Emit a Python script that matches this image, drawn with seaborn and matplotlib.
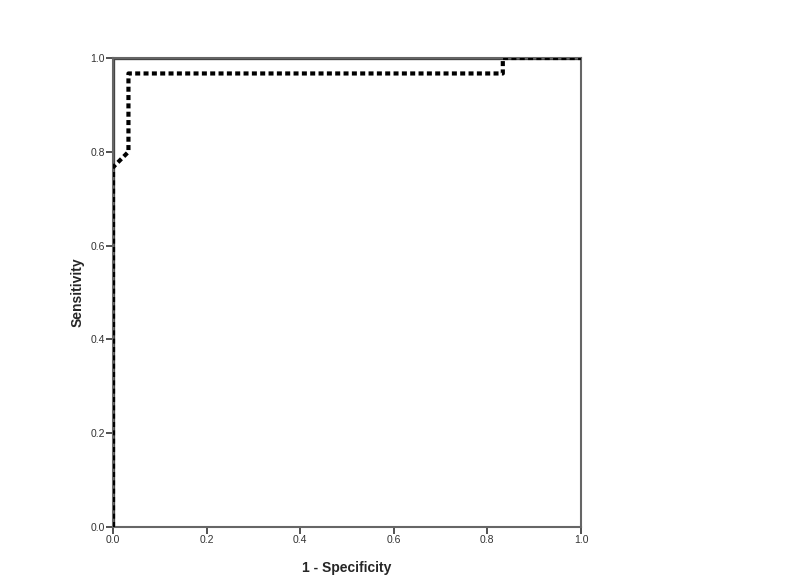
import matplotlib
matplotlib.use("Agg")
import matplotlib.pyplot as plt
import seaborn as sns
import pandas as pd

# Curve A (solid reference / perfect classifier)
fpr_a = [0.0, 0.0, 1.0]
tpr_a = [0.0, 1.0, 1.0]
# Curve B (dotted ROC)
fpr_b = [0.0, 0.0, 0.033, 0.033, 0.833, 0.833, 1.0]
tpr_b = [0.0, 0.767, 0.8, 0.967, 0.967, 1.0, 1.0]
ticks = [0.0, 0.2, 0.4, 0.6, 0.8, 1.0]
tick_labels = ["0.0", "0.2", "0.4", "0.6", "0.8", "1.0"]

sns.set_style("white")
plt.rcParams['font.family'] = ['Liberation Sans', 'DejaVu Sans']

fig = plt.figure(figsize=(7.87, 5.84), dpi=100)
ax = fig.add_axes([0.1436, 0.0976, 0.5946, 0.8031])

dfa = pd.DataFrame({"x": fpr_a, "y": tpr_a})
dfb = pd.DataFrame({"x": fpr_b, "y": tpr_b})

sns.lineplot(data=dfa, x="x", y="y", ax=ax, sort=False, estimator=None,
             color="#444444", linewidth=2.4, zorder=2)
sns.lineplot(data=dfb, x="x", y="y", ax=ax, sort=False, estimator=None,
             color="black", linewidth=3.0, zorder=3)
ax.lines[1].set_dashes([1.2, 0.8])

ax.set_xlim(0, 1)
ax.set_ylim(0, 1)
ax.set_xticks(ticks)
ax.set_xticklabels(tick_labels)
ax.set_yticks(ticks)
ax.set_yticklabels(tick_labels)
ax.tick_params(axis="both", direction="out", length=5, width=1.2,
               color="#333333", labelsize=7.5, labelcolor="#333333", pad=1,
               bottom=True, left=True)
for s in ax.spines.values():
    s.set_visible(True)
    s.set_color("#666666")
    s.set_linewidth(1.5)

ax.set_xlabel("1 - Specificity", fontsize=10, fontweight="bold", labelpad=11)
ax.set_ylabel("Sensitivity", fontsize=10, fontweight="bold", labelpad=4)

fig.savefig("out.png", dpi=100)
